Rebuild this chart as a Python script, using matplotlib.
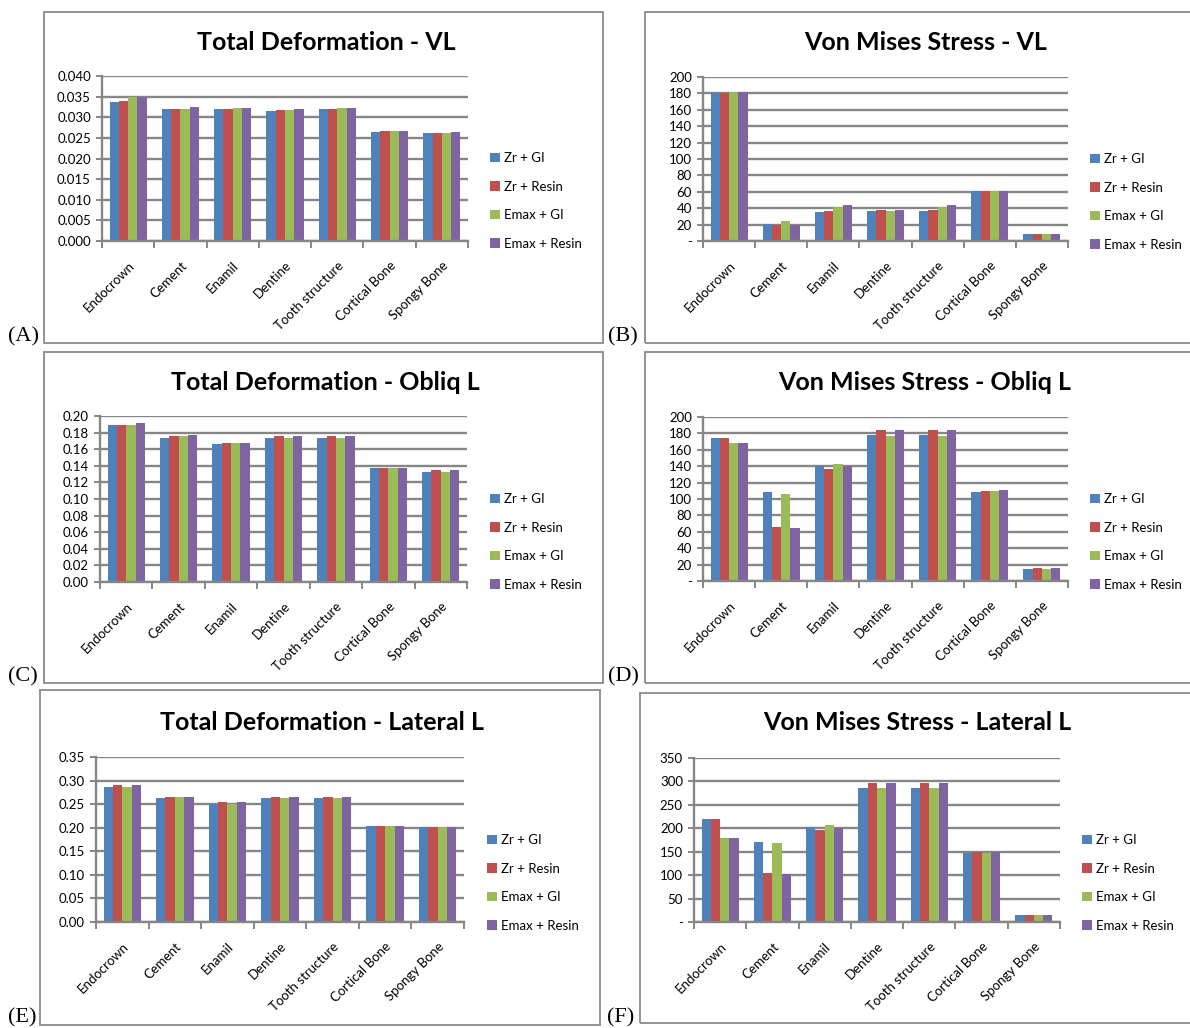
import matplotlib
matplotlib.use("Agg")
import matplotlib.pyplot as plt
import numpy as np
from matplotlib.patches import Rectangle

categories = ["Endocrown", "Cement", "Enamil", "Dentine", "Tooth structure", "Cortical Bone", "Spongy Bone"]
series_names = ["Zr + GI", "Zr + Resin", "Emax + GI", "Emax + Resin"]
colors = ["#4F81BD", "#C0504D", "#9BBB59", "#8064A2"]

# (A) Total Deformation - VL
td_vl_zr_gi = [0.0336, 0.0321, 0.0319, 0.0314, 0.0319, 0.0264, 0.0261]
td_vl_zr_resin = [0.0340, 0.0321, 0.0319, 0.0317, 0.0319, 0.0267, 0.0261]
td_vl_emax_gi = [0.0350, 0.0321, 0.0322, 0.0317, 0.0322, 0.0267, 0.0261]
td_vl_emax_resin = [0.0350, 0.0324, 0.0322, 0.0319, 0.0322, 0.0267, 0.0265]

# (B) Von Mises Stress - VL
vm_vl_zr_gi = [180, 20.5, 35, 36, 36, 61, 8.5]
vm_vl_zr_resin = [180, 19, 36, 38, 38, 61, 8.5]
vm_vl_emax_gi = [181.5, 24, 42, 36, 42, 61, 8.5]
vm_vl_emax_resin = [182, 19, 43.5, 38, 43.5, 61, 8.5]

# (C) Total Deformation - Obliq L
td_ob_zr_gi = [0.189, 0.174, 0.166, 0.174, 0.174, 0.137, 0.133]
td_ob_zr_resin = [0.189, 0.1756, 0.167, 0.1756, 0.1756, 0.137, 0.135]
td_ob_emax_gi = [0.189, 0.1756, 0.167, 0.174, 0.174, 0.137, 0.133]
td_ob_emax_resin = [0.191, 0.1768, 0.167, 0.1756, 0.1756, 0.137, 0.135]

# (D) Von Mises Stress - Obliq L
vm_ob_zr_gi = [174, 108, 140.5, 178.5, 178.5, 108, 14.6]
vm_ob_zr_resin = [174, 66, 136.4, 183.8, 183.8, 109.7, 16.2]
vm_ob_emax_gi = [168.4, 106, 143, 177, 177, 109.7, 14.6]
vm_ob_emax_resin = [168, 64.8, 140.5, 183.8, 183.8, 111, 16.2]

# (E) Total Deformation - Lateral L
td_la_zr_gi = [0.286, 0.262, 0.250, 0.262, 0.262, 0.2033, 0.2005]
td_la_zr_resin = [0.290, 0.265, 0.2536, 0.265, 0.265, 0.2033, 0.2005]
td_la_emax_gi = [0.286, 0.265, 0.250, 0.262, 0.262, 0.2033, 0.2005]
td_la_emax_resin = [0.290, 0.265, 0.2536, 0.265, 0.265, 0.2033, 0.2005]

# (F) Von Mises Stress - Lateral L
vm_la_zr_gi = [220.4, 170.8, 203.4, 286.3, 286.3, 147.4, 14.2]
vm_la_zr_resin = [220.4, 104.9, 196.3, 297, 297, 150.2, 14.2]
vm_la_emax_gi = [178.6, 169.4, 206.2, 286, 286, 147.4, 14.2]
vm_la_emax_resin = [179, 103.5, 199.9, 297, 297, 150.2, 14.2]

titles = ["Total Deformation - VL", "Von Mises Stress - VL",
          "Total Deformation - Obliq L", "Von Mises Stress - Obliq L",
          "Total Deformation - Lateral L", "Von Mises Stress - Lateral L"]
panel_letters = ["(A)", "(B)", "(C)", "(D)", "(E)", "(F)"]

yticks_A = [0.000, 0.005, 0.010, 0.015, 0.020, 0.025, 0.030, 0.035, 0.040]
yticks_B = [0, 20, 40, 60, 80, 100, 120, 140, 160, 180, 200]
yticks_C = [0.00, 0.02, 0.04, 0.06, 0.08, 0.10, 0.12, 0.14, 0.16, 0.18, 0.20]
yticks_D = [0, 20, 40, 60, 80, 100, 120, 140, 160, 180, 200]
yticks_E = [0.00, 0.05, 0.10, 0.15, 0.20, 0.25, 0.30, 0.35]
yticks_F = [0, 50, 100, 150, 200, 250, 300, 350]

data = [
    [td_vl_zr_gi, td_vl_zr_resin, td_vl_emax_gi, td_vl_emax_resin],
    [vm_vl_zr_gi, vm_vl_zr_resin, vm_vl_emax_gi, vm_vl_emax_resin],
    [td_ob_zr_gi, td_ob_zr_resin, td_ob_emax_gi, td_ob_emax_resin],
    [vm_ob_zr_gi, vm_ob_zr_resin, vm_ob_emax_gi, vm_ob_emax_resin],
    [td_la_zr_gi, td_la_zr_resin, td_la_emax_gi, td_la_emax_resin],
    [vm_la_zr_gi, vm_la_zr_resin, vm_la_emax_gi, vm_la_emax_resin],
]
yticks_all = [yticks_A, yticks_B, yticks_C, yticks_D, yticks_E, yticks_F]
fmts = [lambda v: f"{v:.3f}", lambda v: "-" if v == 0 else f"{v:.0f}",
        lambda v: f"{v:.2f}", lambda v: "-" if v == 0 else f"{v:.0f}",
        lambda v: f"{v:.2f}", lambda v: "-" if v == 0 else f"{v:.0f}"]

W, H = 1190, 1028
fig = plt.figure(figsize=(W / 100, H / 100), dpi=100)
plt.rcParams['font.family'] = ['Lato', 'DejaVu Sans']

# pixel layouts
axes_px = [(102, 76, 468, 241), (703, 77, 1068, 241),
           (100, 416, 467, 582), (703, 417, 1068, 581),
           (96, 757, 464, 922), (694, 758, 1060, 922)]
boxes_px = [(44, 12, 603, 343), (645, 12, 1200, 343),
            (44, 352, 603, 683), (645, 352, 1200, 683),
            (40, 690, 600, 1025), (640, 693, 1200, 1023)]
title_px = [(326, 42), (926, 43), (325, 382), (925, 382), (322, 722), (917, 722)]
legend_px = [(490, 201), (1090, 202), (490, 542), (1090, 542), (487, 883), (1082, 883)]
letter_px = [(8, 337), (608, 337), (8, 677), (608, 677), (8, 1018), (607, 1018)]

def fx(x):
    return x / W

def fy(y):
    return 1 - y / H

grid_col = "#868686"
x = np.arange(len(categories))
bw = 0.178

for k in range(6):
    bx0, by0, bx1, by1 = boxes_px[k]
    fig.add_artist(Rectangle((fx(bx0), fy(by1)), fx(bx1) - fx(bx0), fy(by0) - fy(by1),
                             transform=fig.transFigure, fill=False,
                             edgecolor="#8a8a8a", linewidth=1.3, zorder=0))
    x0, y0, x1, y1 = axes_px[k]
    ax = fig.add_axes([fx(x0), fy(y1), fx(x1) - fx(x0), fy(y0) - fy(y1)])
    handles = []
    for s in range(4):
        h = ax.bar(x + (s - 1.5) * bw, data[k][s], width=bw, color=colors[s],
                   label=series_names[s], zorder=3)
        handles.append(h)
    yt = yticks_all[k]
    ax.set_ylim(yt[0], yt[-1])
    ax.set_xlim(-0.5, len(categories) - 0.5)
    ax.set_yticks(yt)
    ax.set_yticklabels([fmts[k](v) for v in yt], fontsize=9.5)
    ax.yaxis.grid(True, color=grid_col, linewidth=1.7, zorder=1)
    for sp in ["top", "right"]:
        ax.spines[sp].set_visible(False)
    for sp in ["left", "bottom"]:
        ax.spines[sp].set_color(grid_col)
        ax.spines[sp].set_linewidth(1.7)
        ax.spines[sp].set_zorder(4)
    ax.set_xticks(np.arange(-0.5, len(categories), 1.0))
    ax.set_xticklabels([])
    ax.set_xticks(x, minor=True)
    ax.set_xticklabels(categories, minor=True, rotation=45, ha="right",
                       rotation_mode="anchor", fontsize=9.5)
    ax.tick_params(axis="x", which="major", length=5, width=1.4, color=grid_col, direction="out")
    ax.tick_params(axis="x", which="minor", length=0, pad=13)
    ax.tick_params(axis="y", length=4, width=1.4, color=grid_col, direction="out", pad=4)
    fig.text(fx(title_px[k][0]), fy(title_px[k][1]), titles[k], fontsize=18,
             fontweight="bold", ha="center", va="center")
    lx, ly = legend_px[k]
    fig.legend(handles=handles, labels=series_names, loc="center left",
               bbox_to_anchor=(fx(lx), fy(ly)), frameon=False, fontsize=9.5,
               handlelength=0.75, handleheight=0.75, handletextpad=0.3,
               labelspacing=1.25, borderaxespad=0, borderpad=0)
    fig.text(fx(letter_px[k][0]), fy(letter_px[k][1]), panel_letters[k],
             fontsize=16, family=["Liberation Serif", "DejaVu Serif"],
             ha="left", va="center")

fig.savefig("out.png", dpi=100, facecolor="white")
